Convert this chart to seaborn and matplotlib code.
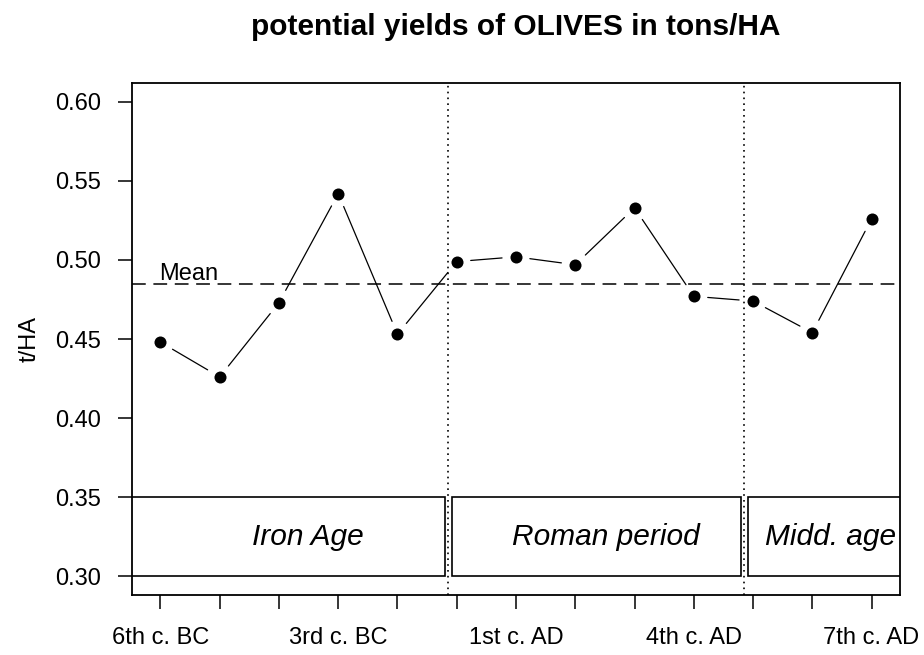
import numpy as np
import matplotlib
matplotlib.use("Agg")
import matplotlib.pyplot as plt
from matplotlib.patches import Rectangle
import seaborn as sns

# values
centuries = ["6th c. BC", "5th c. BC", "4th c. BC", "3rd c. BC", "2nd c. BC", "1st c. BC",
             "1st c. AD", "2nd c. AD", "3rd c. AD", "4th c. AD", "5th c. AD", "6th c. AD",
             "7th c. AD"]
yields = [0.448, 0.426, 0.473, 0.542, 0.453, 0.499, 0.502, 0.497, 0.533, 0.477, 0.474,
          0.454, 0.526]
period_names = ["Iron Age", "Roman period", "Midd. age"]
period_breaks = [5.86, 10.85]
yticks = [0.30, 0.35, 0.40, 0.45, 0.50, 0.55, 0.60]

sns.set_style("ticks")
plt.rcParams["font.family"] = ["Liberation Sans", "DejaVu Sans"]
plt.rcParams["text.color"] = "black"
plt.rcParams["axes.labelcolor"] = "black"

x = np.arange(1, len(yields) + 1)
y = np.array(yields)
mean_y = y.mean()

fig = plt.figure(figsize=(9.24, 6.55), dpi=100)
ax = fig.add_axes([132 / 924, 1 - 595 / 655, (900 - 132) / 924, (595 - 83) / 655])
ax.set_xlim(0.52, 13.48)
ax.set_ylim(0.288, 0.612)

# period boxes
edges = [0] + period_breaks + [14]
text_x = [3.48, 8.52, 12.3]
for i, name in enumerate(period_names):
    x0 = edges[i] + (0.06 if i > 0 else 0)
    x1 = edges[i + 1] - (0.06 if i < len(period_names) - 1 else 0)
    ax.add_patch(Rectangle((x0, 0.30), x1 - x0, 0.05, facecolor="white",
                           edgecolor="black", lw=1.2, zorder=2))
    ax.text(text_x[i], 0.3245, name, ha="center", va="center", fontsize=21.5,
            style="italic", color="black", zorder=3)

for b in period_breaks:
    ax.axvline(b, color="black", lw=1.2, linestyle=(0, (1, 2.5)), zorder=1)

ax.axhline(mean_y, color="black", lw=1.1, linestyle=(0, (9, 5)), zorder=1)
ax.annotate("Mean", (1, mean_y), xytext=(-1, 3), textcoords="offset points",
            ha="left", va="baseline", fontsize=17, color="black")

# lines with gaps around points (like R type="b")
pts = ax.transData.transform(np.column_stack([x, y]))
inv = ax.transData.inverted()
gap = 14
for p1, p2 in zip(pts[:-1], pts[1:]):
    d = p2 - p1
    L = np.hypot(*d)
    if L > 2 * gap:
        u = d / L
        seg = inv.transform(np.vstack([p1 + u * gap, p2 - u * gap]))
        ax.plot(seg[:, 0], seg[:, 1], color="black", lw=0.9, zorder=3)

sns.scatterplot(x=x, y=y, ax=ax, color="black", s=75, edgecolor="black",
                linewidth=0, zorder=4)

ax.set_xticks(x)
ax.set_xticklabels([c if i % 3 == 0 else "" for i, c in enumerate(centuries)])
ax.set_yticks(yticks)
ax.set_yticklabels([f"{v:.2f}" for v in yticks])
ax.tick_params(axis="both", direction="out", length=10, width=1.1, labelsize=17,
               colors="black")
ax.tick_params(axis="x", pad=13)
ax.tick_params(axis="y", pad=12)
for s in ax.spines.values():
    s.set_visible(True)
    s.set_linewidth(1.3)
    s.set_color("black")
ax.set_xlabel("")
ax.set_ylabel("")

fig.text(516 / 924, 1 - 27 / 655, "potential yields of OLIVES in tons/HA",
         ha="center", va="center", fontsize=21.5, fontweight="bold", color="black")
fig.text(30 / 924, 1 - 339 / 655, "t/HA", rotation=90, ha="center", va="center",
         fontsize=17, color="black")

fig.savefig("out.png", dpi=100)
